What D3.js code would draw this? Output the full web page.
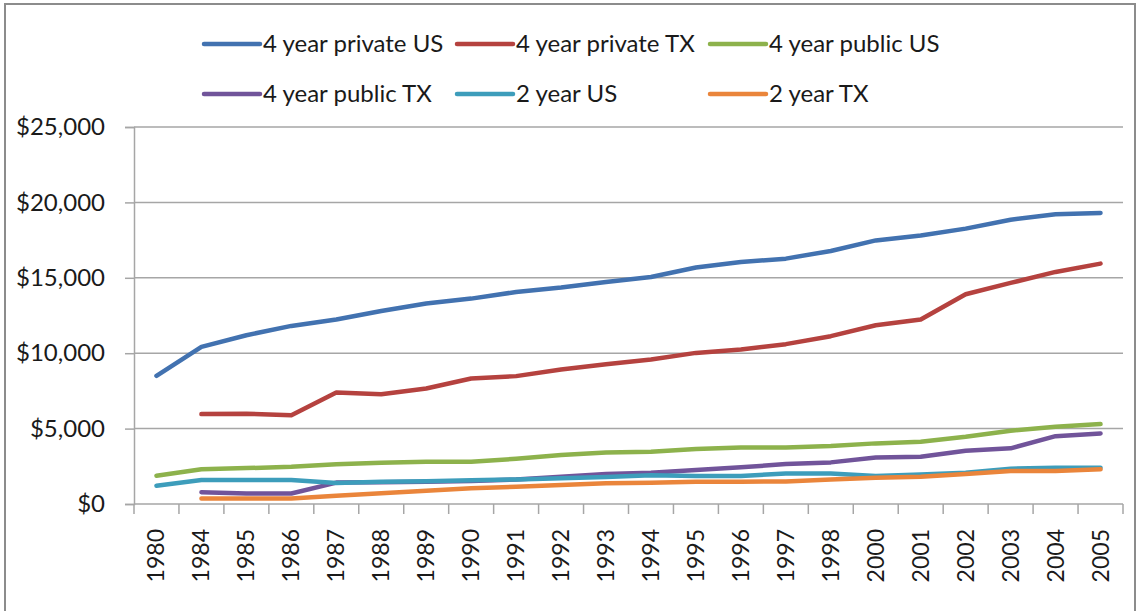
<!DOCTYPE html>
<html>
<head>
<meta charset="utf-8">
<script src="https://cdn.jsdelivr.net/npm/d3@7"></script>
<style>
  html, body { margin: 0; padding: 0; background: #fff; }
  svg { display: block; font-family: Lato, "Liberation Sans", Arial, sans-serif; }
</style>
</head>
<body>
<svg id="chart" width="1138" height="611"></svg>
<script>
// Average annual tuition, 1980–2005
const years = ["1980","1984","1985","1986","1987","1988","1989","1990","1991","1992","1993",
               "1994","1995","1996","1997","1998","2000","2001","2002","2003","2004","2005"];

const privateUS4 = [8500,10420,11190,11810,12230,12800,13290,13620,14060,14350,14720,
                    15050,15680,16050,16270,16780,17480,17810,18260,18850,19210,19300];
const privateTX4 = [null,5960,5990,5890,7390,7280,7660,8320,8480,8920,9270,
                    9580,10020,10240,10600,11130,11850,12230,13910,14660,15390,15940];
const publicUS4  = [1880,2300,2380,2470,2630,2740,2800,2800,3000,3250,3420,
                    3470,3640,3750,3750,3840,4020,4130,4460,4860,5120,5300];
const publicTX4  = [null,780,700,700,1420,1440,1480,1520,1630,1810,1990,
                    2070,2250,2430,2650,2760,3090,3130,3530,3690,4500,4680];
const us2        = [1210,1590,1590,1590,1390,1480,1510,1570,1630,1700,1790,
                    1900,1850,1850,2030,2030,1850,1960,2070,2340,2400,2400];
const tx2        = [null,370,370,370,550,710,880,1040,1150,1260,1370,
                    1410,1480,1480,1500,1630,1740,1810,1990,2190,2190,2300];

const seriesNames = ["4 year private US","4 year private TX","4 year public US",
                     "4 year public TX","2 year US","2 year TX"];
const seriesValues = [privateUS4, privateTX4, publicUS4, publicTX4, us2, tx2];
const seriesColors = ["#4272B0","#B5423F","#8DB24C","#71549A","#3D9DBB","#EA853B"];
const yTicks = [0, 5000, 10000, 15000, 20000, 25000];

const svg = d3.select("#chart");

// outer chart frame
svg.append("rect")
  .attr("x", 5).attr("y", 4).attr("width", 1130).attr("height", 640)
  .attr("fill", "none").attr("stroke", "#8c8c8c").attr("stroke-width", 2);

const plotLeft = 134, plotRight = 1123, plotTop = 127, plotBottom = 504;

const x = d3.scaleBand().domain(years).range([plotLeft, plotRight]).paddingInner(0).paddingOuter(0);
const y = d3.scaleLinear().domain([0, 25000]).range([plotBottom, plotTop]);
const cx = d => x(d) + x.bandwidth() / 2;

// horizontal gridlines
svg.append("g").selectAll("line").data(yTicks.filter(t => t > 0)).join("line")
  .attr("x1", plotLeft).attr("x2", plotRight)
  .attr("y1", d => y(d)).attr("y2", d => y(d))
  .attr("stroke", "#a6a6a6").attr("stroke-width", 1.5);

// y axis
const yAxis = svg.append("g").attr("transform", `translate(${plotLeft},0)`)
  .call(d3.axisLeft(y).tickValues(yTicks).tickSize(9).tickPadding(20)
        .tickFormat(d => "$" + d3.format(",")(d)));
yAxis.select(".domain").attr("stroke", "#a6a6a6").attr("stroke-width", 1.5);
yAxis.selectAll(".tick line").attr("stroke", "#a6a6a6").attr("stroke-width", 1.5);
yAxis.selectAll(".tick text").attr("font-size", 24).attr("fill", "#1a1a1a")
  .attr("font-family", "Lato, 'Liberation Sans', Arial, sans-serif");

// x axis: baseline, ticks at category boundaries, rotated labels
const xg = svg.append("g");
xg.append("line").attr("x1", plotLeft).attr("x2", plotRight).attr("y1", plotBottom).attr("y2", plotBottom)
  .attr("stroke", "#a6a6a6").attr("stroke-width", 1.5);
const bounds = years.map(d => x(d)).concat([x(years[years.length - 1]) + x.bandwidth()]);
xg.selectAll("line.tk").data(bounds).join("line").attr("class", "tk")
  .attr("x1", d => d).attr("x2", d => d).attr("y1", plotBottom).attr("y2", plotBottom + 10)
  .attr("stroke", "#a6a6a6").attr("stroke-width", 1.5);
xg.selectAll("text").data(years).join("text")
  .attr("transform", d => `translate(${cx(d) + 8},${plotBottom + 25}) rotate(-90)`)
  .attr("text-anchor", "end")
  .attr("font-size", 23).attr("fill", "#1a1a1a")
  .text(d => d);

// series lines
const line = d3.line()
  .defined(d => d.v !== null)
  .x(d => cx(d.year))
  .y(d => y(d.v));

seriesValues.forEach((vals, i) => {
  const pts = years.map((yr, j) => ({ year: yr, v: vals[j] }));
  svg.append("path").datum(pts)
    .attr("d", line)
    .attr("fill", "none")
    .attr("stroke", seriesColors[i])
    .attr("stroke-width", 4.5)
    .attr("stroke-linejoin", "round")
    .attr("stroke-linecap", "round");
});

// legend, two rows of three
const legendCols = [204, 457, 710];
const legendRows = [44, 94];
const lg = svg.append("g");
seriesNames.forEach((name, i) => {
  const lx = legendCols[i % 3], ly = legendRows[Math.floor(i / 3)];
  lg.append("line").attr("x1", lx).attr("x2", lx + 56).attr("y1", ly).attr("y2", ly)
    .attr("stroke", seriesColors[i]).attr("stroke-width", 4.5).attr("stroke-linecap", "round");
  lg.append("text").attr("x", lx + 59).attr("y", ly + 8)
    .attr("font-size", 24).attr("fill", "#1a1a1a").text(name);
});
</script>
</body>
</html>
